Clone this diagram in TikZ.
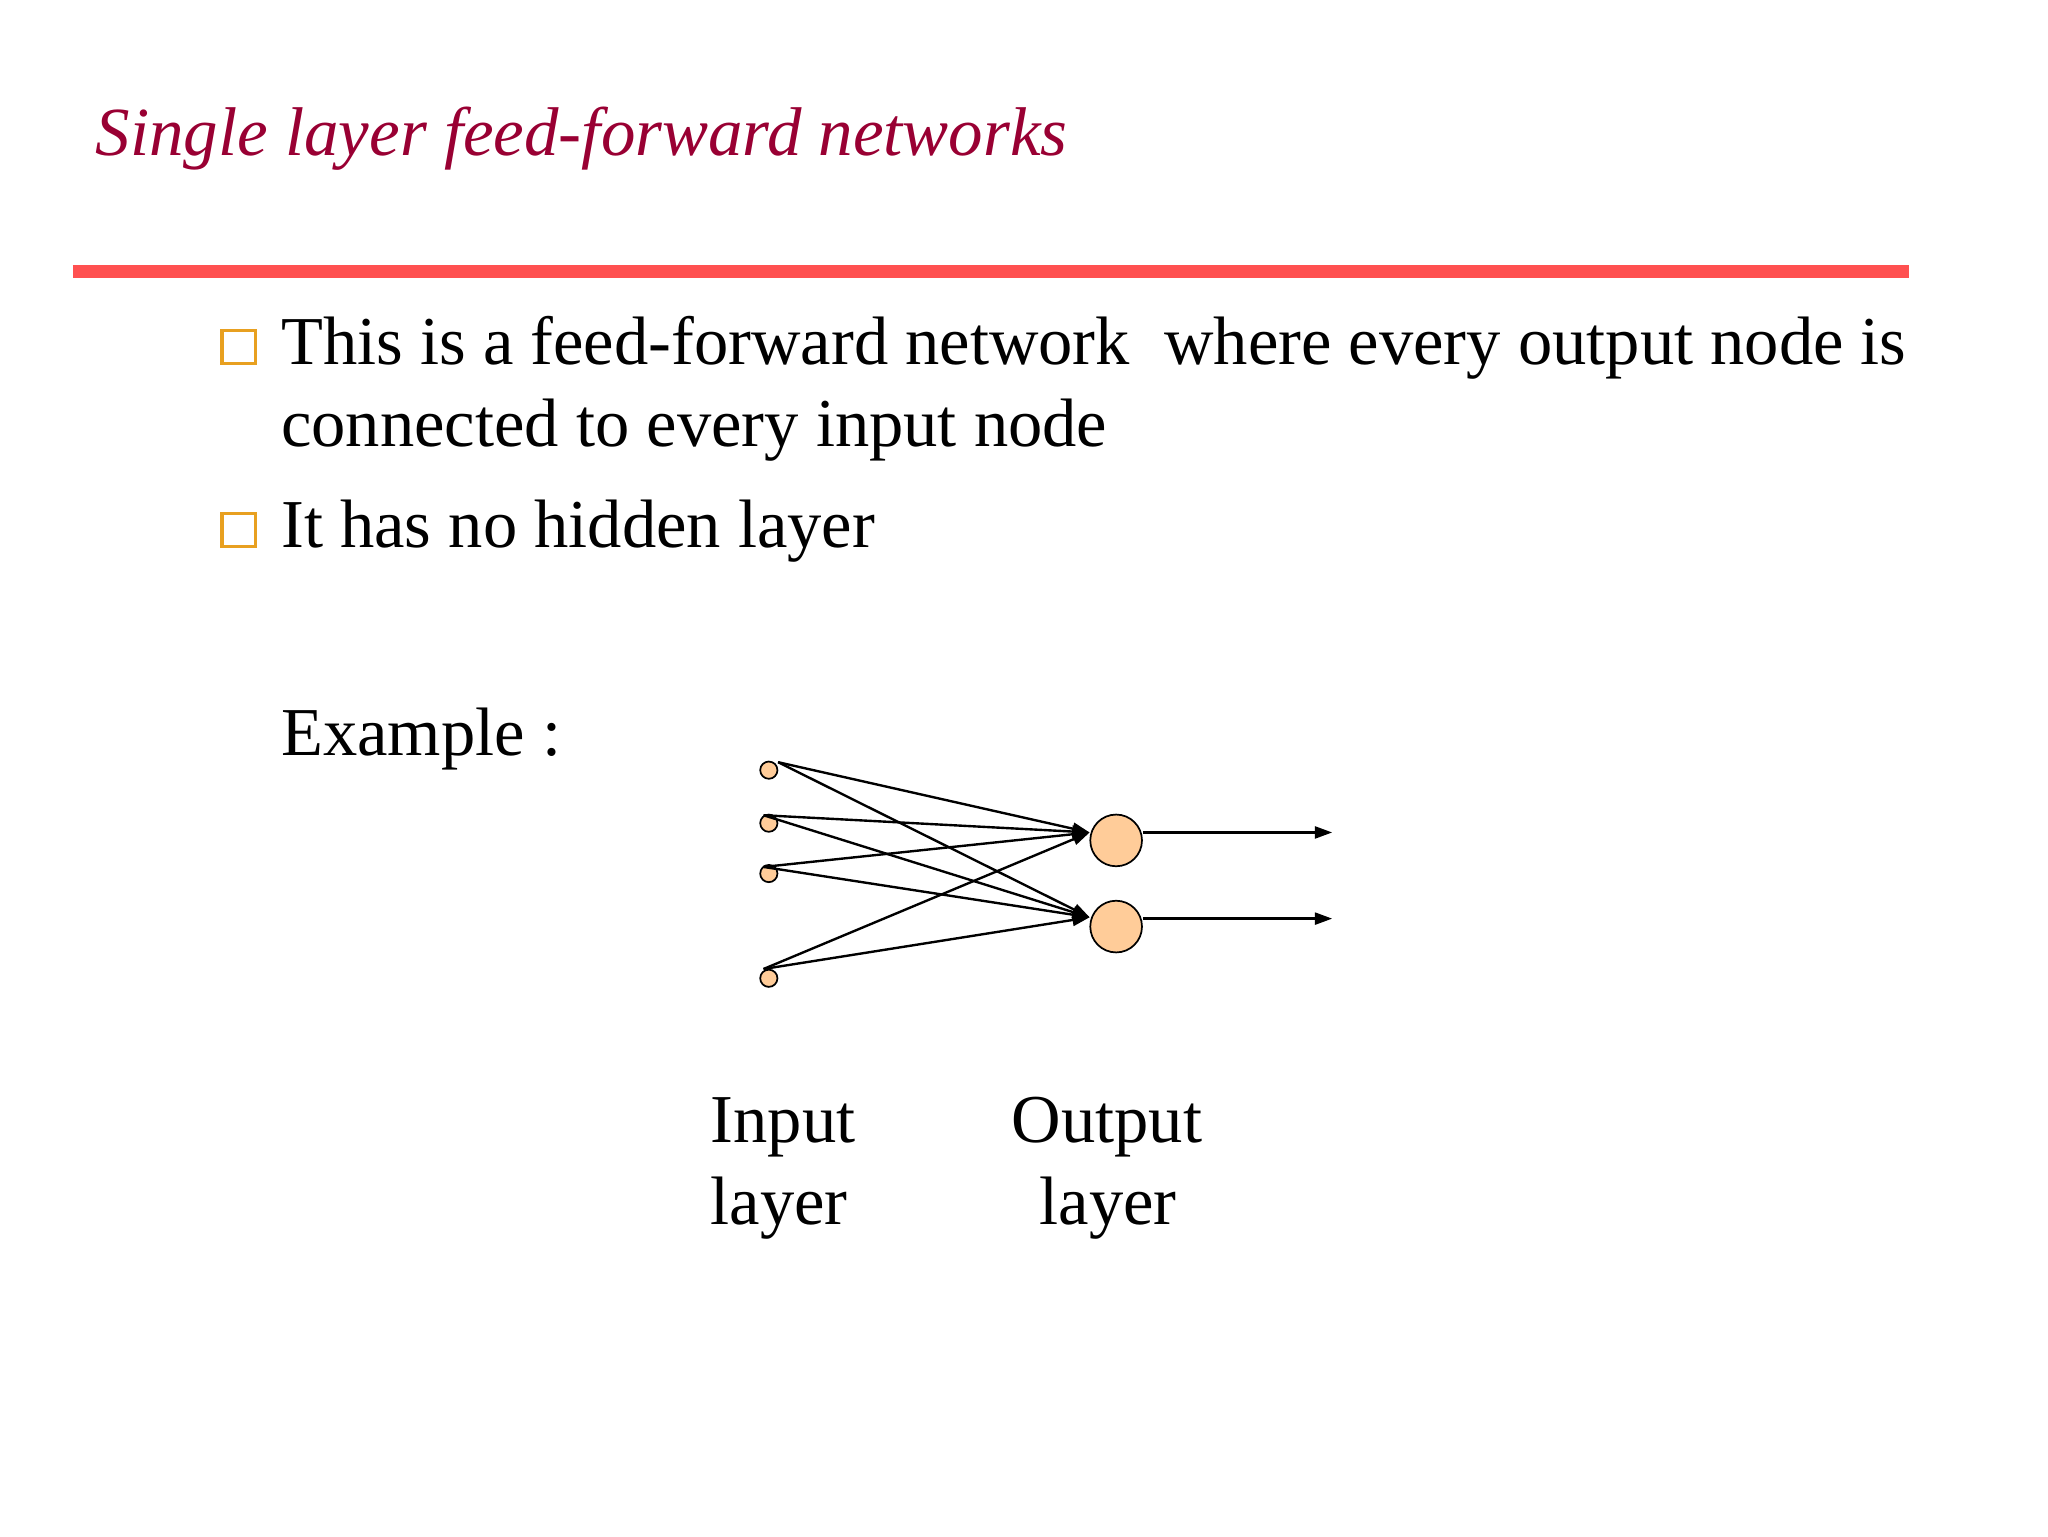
\documentclass[tikz,border=0pt]{standalone}
\usepackage{fontspec}
\setmainfont{Liberation Serif}
\usetikzlibrary{arrows.meta}
\definecolor{titlered}{HTML}{990033}
\definecolor{rulered}{HTML}{FF5050}
\definecolor{nodefill}{HTML}{FFCC99}
\definecolor{boxorange}{HTML}{E8A020}
\begin{document}
\begin{tikzpicture}[x=1pt,y=-1pt,
  txt/.style={anchor=base west,inner sep=0pt,font=\fontsize{51.7}{60}\selectfont},
  inp/.style={circle,draw,fill=nodefill,minimum size=13,inner sep=0pt,line width=1.3},
  outp/.style={circle,draw,fill=nodefill,minimum size=39,inner sep=0pt,line width=1.3},
  edge/.style={line width=1.8,-{Triangle[length=13,width=9]}},
  bul/.style={draw=boxorange,line width=2.4,minimum size=25,inner sep=0pt}]
\useasboundingbox (0,0) rectangle (1545,1159);
\node[txt,font=\fontsize{52}{60}\selectfont\itshape,text=titlered] (title) at (72,117) {Single layer feed-forward networks};
\draw[rulered,line width=10] (55,205) -- (1440,205);
\node[bul] (b1) at (180,262) {};
\node[bul] (b2) at (180,400) {};
\node[txt] (l1) at (212,275) {This is a feed-forward network\ \ where every output node is};
\node[txt] (l2) at (212,337) {connected to every input node};
\node[txt] (l3) at (212,413) {It has no hidden layer};
\node[txt] (ex) at (212,570) {Example :};
\node[inp] (i1) at (580,581) {};
\node[inp] (i2) at (580,621) {};
\node[inp] (i3) at (580,659) {};
\node[inp] (i4) at (580,738) {};
\coordinate (s1) at (587,575);
\coordinate (s2) at (576,615);
\coordinate (s3) at (576,654);
\coordinate (s4) at (576,731);
\node[outp] (o1) at (842,634) {};
\node[outp] (o2) at (842,699) {};
\coordinate (t1) at (822,628);
\coordinate (t2) at (822,692);
\foreach \s in {s1,s2,s3,s4}{
  \draw[edge] (\s) -- (t1);
  \draw[edge] (\s) -- (t2);
}
\coordinate (e1) at (1005,628);
\coordinate (e2) at (1005,693);
\draw[edge] (o1.east |- e1) -- (e1);
\draw[edge] (o2.east |- e2) -- (e2);
\node[txt] (in1) at (536,862) {Input};
\node[txt] (in2) at (536,924) {layer};
\node[txt] (ou1) at (763,862) {Output};
\node[txt] (ou2) at (784,924) {layer};
\end{tikzpicture}
\end{document}
